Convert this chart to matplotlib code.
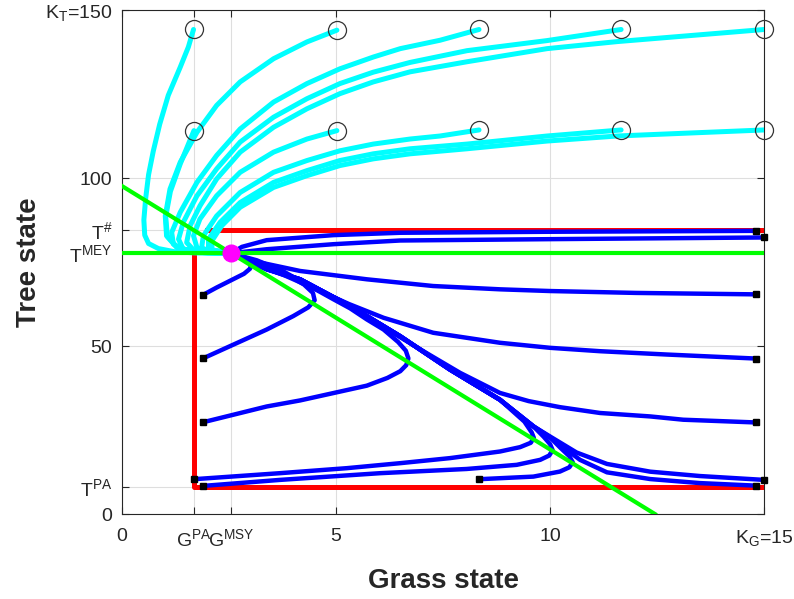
import matplotlib.pyplot as plt

plt.rcParams['font.family'] = ['Liberation Sans', 'DejaVu Sans']
plt.rcParams['mathtext.default'] = 'regular'

# reference levels
G_PA = 1.67
G_MSY = 2.55
K_G = 15
T_PA = 8.0
T_MEY = 77.6
T_SHARP = 84.4
K_T = 150

# green isocline: (G, T) at both ends
iso_g = [0, 12.45]
iso_t = [97.6, 0]

# red boundary
red_top = [(1.98, T_SHARP), (15, T_SHARP)]
red_box = [(G_PA, T_MEY), (G_PA, T_PA), (15, T_PA)]

# cyan trajectories, first point = start (open circle)
cyan_a = [(1.67, 144.2), (1.55, 139.0), (1.36, 133.0), (1.08, 124.6), (0.88, 116.0), (0.73, 108.0),
          (0.62, 101.0), (0.55, 93.7), (0.51, 87.5), (0.53, 83.0), (0.62, 80.5), (0.85, 79.0),
          (1.25, 78.0), (1.75, 77.7), (2.55, 77.6)]
cyan_b = [(5.02, 144.0), (4.32, 140.5), (3.54, 135.5), (2.76, 128.6), (2.21, 121.6), (1.75, 113.6),
          (1.36, 104.7), (1.12, 96.7), (1.01, 88.7), (1.04, 82.8), (1.28, 79.3), (1.75, 78.0), (2.55, 77.6)]
cyan_c = [(8.34, 144.2), (7.43, 141.0), (6.50, 138.5), (5.87, 136.0), (5.09, 132.5), (4.32, 128.1),
          (3.54, 122.6), (2.76, 114.6), (2.21, 106.7), (1.75, 98.7), (1.36, 89.8), (1.16, 83.8),
          (1.20, 80.3), (1.51, 78.3), (2.0, 77.7), (2.55, 77.6)]
cyan_d = [(11.66, 144.2), (9.93, 140.9), (8.06, 137.9), (6.73, 134.4), (5.87, 131.5), (5.09, 128.1),
          (4.32, 123.6), (3.54, 118.1), (2.76, 110.7), (2.21, 102.7), (1.75, 94.7), (1.43, 86.8),
          (1.32, 81.8), (1.43, 78.8), (1.9, 77.8), (2.55, 77.6)]
cyan_e = [(15.0, 144.2), (11.57, 140.6), (9.93, 138.5), (8.06, 134.6), (6.73, 131.6), (5.87, 128.6),
          (5.09, 125.1), (4.32, 120.6), (3.54, 115.1), (2.76, 107.7), (2.21, 99.7), (1.82, 91.7),
          (1.59, 85.8), (1.51, 80.8), (1.67, 78.6), (2.0, 77.8), (2.55, 77.6)]
cyan_f = [(1.68, 114.1), (1.36, 104.2), (1.13, 96.0), (1.02, 88.5), (1.06, 82.6), (1.30, 79.2),
          (1.78, 78.0), (2.55, 77.6)]
cyan_g = [(5.02, 114.1), (4.32, 111.6), (3.54, 107.7), (2.76, 101.7), (2.21, 94.7), (1.82, 87.8),
          (1.67, 82.8), (1.75, 79.3), (1.98, 78.0), (2.55, 77.6)]
cyan_h = [(8.34, 114.3), (7.43, 112.5), (6.73, 111.6), (5.87, 110.1), (5.09, 108.1), (4.32, 105.2),
          (3.54, 101.7), (2.76, 95.7), (2.21, 88.7), (1.90, 82.8), (1.86, 79.3), (2.06, 78.0), (2.55, 77.6)]
cyan_i = [(11.66, 114.3), (9.93, 112.5), (8.06, 110.1), (6.73, 108.7), (5.87, 107.2), (5.09, 105.2),
          (4.32, 102.2), (3.54, 98.7), (2.76, 92.7), (2.29, 86.8), (2.02, 81.8), (2.02, 78.8), (2.55, 77.6)]
cyan_j = [(15.0, 114.3), (11.57, 112.5), (9.93, 111.0), (8.06, 108.7), (6.73, 107.2), (5.87, 105.7),
          (5.09, 103.7), (4.32, 100.7), (3.54, 97.2), (2.76, 91.3), (2.33, 85.8), (2.10, 81.3),
          (2.10, 78.6), (2.55, 77.6)]

# blue trajectories, first point = start (filled square)
blue_1 = [(1.89, 65.2), (2.21, 67.4), (2.60, 69.9), (2.85, 71.5), (2.99, 73.0), (3.02, 74.5),
          (2.90, 75.9), (2.72, 76.9), (2.55, 77.6)]
blue_2 = [(1.89, 46.3), (2.60, 50.4), (3.38, 54.9), (4.00, 58.9), (4.35, 61.5), (4.50, 63.6),
          (4.46, 65.8), (4.25, 68.3), (3.77, 71.9), (3.22, 74.8), (2.76, 76.8), (2.55, 77.6)]
blue_3 = [(1.89, 27.3), (3.38, 32.0), (4.16, 33.8), (4.94, 36.0), (5.72, 38.2), (6.20, 40.5),
          (6.50, 42.5), (6.64, 44.3), (6.69, 46.3), (6.63, 48.6), (6.45, 51.2), (6.11, 54.9),
          (5.72, 57.9), (5.33, 61.2), (4.94, 63.9), (4.16, 69.4), (3.77, 72.2), (3.15, 75.5), (2.55, 77.6)]
blue_4 = [(14.80, 65.37), (12.0, 65.8), (10.0, 66.36), (8.83, 66.87), (7.27, 67.85), (5.72, 69.85),
          (4.16, 72.33), (2.99, 75.5), (2.55, 77.6)]
blue_5 = [(14.80, 46.27), (12.73, 47.46), (11.17, 48.45), (10.0, 49.46), (8.83, 50.96), (7.27, 53.94),
          (6.11, 58.4), (5.3, 62.5), (4.6, 66.5), (3.8, 71.0), (3.0, 75.0), (2.55, 77.6)]
blue_6 = [(14.80, 27.25), (13.11, 28.06), (12.34, 29.04), (11.17, 30.06), (10.23, 31.8), (9.50, 33.6),
          (8.83, 36.03), (7.90, 42.0), (7.1, 48.0), (6.50, 52.6), (5.33, 61.6), (4.16, 69.6),
          (3.38, 72.8), (2.55, 77.6)]
top_1 = [(14.80, 84.27), (10.0, 84.0), (6.5, 83.7), (4.94, 83.0), (3.38, 81.5), (2.8, 79.5), (2.55, 77.6)]
top_2 = [(15.0, 82.3), (10.0, 81.8), (6.5, 81.4), (4.94, 80.3), (3.38, 78.8), (2.55, 77.6)]

# shared path the lower trajectories follow back to the MSY point
trunk = [(9.61, 26.1), (8.83, 34.0), (7.66, 43.0), (6.50, 52.9), (5.33, 61.9), (4.16, 69.85),
         (3.38, 72.9), (2.55, 77.6)]
low_7 = [(1.68, 10.36), (3.69, 12.15), (5.25, 13.64), (6.50, 15.13), (7.66, 16.63), (8.83, 18.60),
         (9.30, 19.9), (9.55, 21.2), (9.62, 22.7), (9.57, 24.3), (9.40, 27.5)]
low_8 = [(1.89, 8.36), (3.69, 10.15), (6.03, 12.15), (8.05, 13.4), (9.22, 14.63), (9.77, 16.12),
         (9.98, 17.4), (10.06, 19.0), (10.0, 20.8), (9.85, 23.0)]
low_9 = [(8.35, 10.36), (9.61, 11.13), (10.23, 12.63), (10.45, 13.9), (10.53, 15.4), (10.45, 17.2),
         (10.25, 19.6), (10.0, 22.8)]
low_10 = [(15.0, 10.15), (13.5, 11.3), (12.34, 12.6), (11.33, 14.9), (10.62, 18.3), (10.0, 23.07)]
low_11 = [(14.80, 8.45), (13.5, 9.2), (12.34, 10.4), (11.33, 12.4), (10.70, 16.12), (10.08, 22.09)]

cyan_list = [cyan_a, cyan_b, cyan_c, cyan_d, cyan_e, cyan_f, cyan_g, cyan_h, cyan_i, cyan_j]
blue_list = [blue_1, blue_2, blue_3, blue_4, blue_5, blue_6, top_1, top_2]
blue_list += [low_7 + trunk[1:], low_8 + trunk, low_9 + trunk, low_10 + trunk, low_11 + trunk]

fig = plt.figure(figsize=(7.94, 5.99), dpi=100)
ax = fig.add_axes([0.1537, 0.1419, 0.8086, 0.8414])

ax.plot([p[0] for p in red_top], [p[1] for p in red_top], color='red', lw=3.6, zorder=2)
ax.plot([p[0] for p in red_box], [p[1] for p in red_box], color='red', lw=3.6, zorder=2)

for c in cyan_list:
    ax.plot([p[0] for p in c], [p[1] for p in c], color='cyan', lw=3.6,
            solid_joinstyle='round', solid_capstyle='round', zorder=3)
for b in blue_list:
    ax.plot([p[0] for p in b], [p[1] for p in b], color='blue', lw=3.2,
            solid_joinstyle='round', solid_capstyle='round', zorder=4)

ax.plot(iso_g, iso_t, color='lime', lw=3.0, zorder=5)
ax.plot([0, K_G], [T_MEY, T_MEY], color='lime', lw=3.0, zorder=5)

ax.plot([c[0][0] for c in cyan_list], [c[0][1] for c in cyan_list], 'o', ms=13,
        mfc='none', mec='#333333', mew=0.9, zorder=6, clip_on=False)
ax.plot([b[0][0] for b in blue_list], [b[0][1] for b in blue_list], 's', ms=5,
        color='black', zorder=6, clip_on=False)
ax.plot([G_MSY], [T_MEY], 'o', ms=12, color='magenta', zorder=7)

ax.set_xlim(0, K_G)
ax.set_ylim(0, K_T)
ax.set_xticks([0, G_PA, G_MSY, 5, 10, K_G])
ax.set_xticklabels(['0', 'G$^{PA}$', 'G$^{MSY}$', '5', '10', 'K$_G$=15'])
ax.set_yticks([0, T_PA, 50, T_MEY, T_SHARP, 100, K_T])
ax.set_yticklabels(['0', 'T$^{PA}$', '50', 'T$^{MEY}$', 'T$^{\\#}$', '100', 'K$_T$=150'])

ax.grid(True, color='#dedede', lw=0.8)
ax.set_axisbelow(True)
ax.tick_params(direction='in', top=True, right=True, length=5, width=0.8,
               color='#262626', labelcolor='#262626', labelsize=14)
ax.tick_params(axis='x', pad=10)
ax.tick_params(axis='y', pad=7)
for s in ax.spines.values():
    s.set_color('#262626')
    s.set_linewidth(0.8)

ax.set_xlabel('Grass state', fontsize=20, fontweight='bold', color='#262626')
ax.set_ylabel('Tree state', fontsize=20, fontweight='bold', color='#262626')
ax.xaxis.set_label_coords(0.5, -0.108)
ax.yaxis.set_label_coords(-0.125, 0.5)

fig.savefig('out.png', dpi=100)
